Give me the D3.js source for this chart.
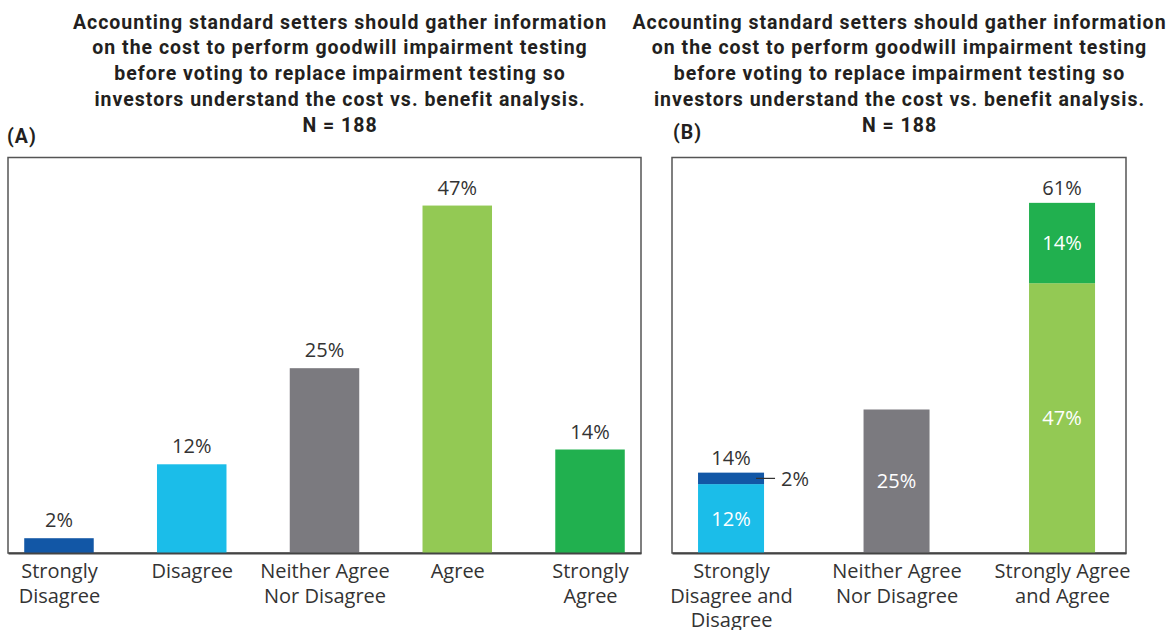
<!DOCTYPE html>
<html>
<head>
<meta charset="utf-8">
<script src="https://cdn.jsdelivr.net/npm/d3@7"></script>
<style>
  html, body { margin: 0; padding: 0; background: #fff; }
  svg { display: block; }
</style>
</head>
<body>
<div id="chart"></div>
<script>
// ---------- data ----------
const titleLines = [
  "Accounting standard setters should gather information",
  "on the cost to perform goodwill impairment testing",
  "before voting to replace impairment testing so",
  "investors understand the cost vs. benefit analysis.",
  "N = 188"
];

// Panel A
const categoriesA = ["Strongly Disagree", "Disagree", "Neither Agree Nor Disagree", "Agree", "Strongly Agree"];
const tickLinesA = [["Strongly", "Disagree"], ["Disagree"], ["Neither Agree", "Nor Disagree"], ["Agree"], ["Strongly", "Agree"]];
const valuesA = [2, 12, 25, 47, 14];
const colorsA = ["#1257a6", "#1bbde9", "#7b7a7f", "#93c954", "#21b04f"];

// Panel B (stacked)
const categoriesB = ["Strongly Disagree and Disagree", "Neither Agree Nor Disagree", "Strongly Agree and Agree"];
const tickLinesB = [["Strongly", "Disagree and", "Disagree"], ["Neither Agree", "Nor Disagree"], ["Strongly Agree", "and Agree"]];
const lowerB = [12, 25, 47];
const upperB = [2, 0, 14];
const totalLabelsB = ["14%", null, "61%"];
const lowerColorsB = ["#1bbde9", "#7b7a7f", "#93c954"];
const upperColorsB = ["#1257a6", null, "#21b04f"];

// ---------- layout ----------
const W = 1167, H = 630;
const FONT = "'Open Sans', sans-serif";
const TITLE_FONT = "Roboto, sans-serif";
const TEXT = "#333";

const svg = d3.select("#chart").append("svg")
  .attr("width", W).attr("height", H)
  .attr("viewBox", `0 0 ${W} ${H}`);

function drawTitle(cx) {
  const t = svg.append("text")
    .attr("text-anchor", "middle")
    .attr("font-family", TITLE_FONT)
    .attr("font-weight", 700)
    .attr("font-size", 19.5)
    .attr("letter-spacing", 1)
    .attr("fill", "#231f20");
  titleLines.forEach((line, i) => {
    t.append("tspan").attr("x", cx).attr("y", 28.5 + i * 25.8).text(line);
  });
}
drawTitle(340);
drawTitle(899.5);

svg.append("text").attr("x", 7).attr("y", 143)
  .attr("font-family", TITLE_FONT).attr("font-weight", 700).attr("font-size", 19.5)
  .attr("letter-spacing", 1).attr("fill", "#231f20").text("(A)");
svg.append("text").attr("x", 673).attr("y", 139)
  .attr("font-family", TITLE_FONT).attr("font-weight", 700).attr("font-size", 19.5)
  .attr("letter-spacing", 1).attr("fill", "#231f20").text("(B)");

const yTop = 157.5, yBot = 553;

function frame(x0, x1) {
  svg.append("rect")
    .attr("x", x0).attr("y", yTop)
    .attr("width", x1 - x0).attr("height", yBot - yTop)
    .attr("fill", "none").attr("stroke", "#555").attr("stroke-width", 1.5);
}

function bottomAxis(x, lines, cats) {
  const g = svg.append("g").attr("transform", `translate(0,${yBot})`)
    .call(d3.axisBottom(x).tickSize(0).tickSizeOuter(0));
  g.select(".domain").attr("stroke", "#444").attr("stroke-width", 2.2);
  g.selectAll(".tick text").each(function(d) {
    const el = d3.select(this);
    const i = cats.indexOf(d);
    el.text(null)
      .attr("font-family", FONT).attr("font-size", 20).attr("fill", TEXT)
      .attr("y", 0).attr("dy", null);
    lines[i].forEach((ln, k) => {
      el.append("tspan").attr("x", 0).attr("y", 25 + k * 24.5).text(ln);
    });
  });
}

// ---------- Panel A ----------
const xA0 = 8, xA1 = 641;
frame(xA0, xA1);
const xA = d3.scalePoint().domain(categoriesA).range([xA0, xA1]).padding(0.384).align(0.5);
const yA = d3.scaleLinear().domain([0, 53.5]).range([yBot, yTop]);
const bwA = 69.5;

svg.append("g").selectAll("rect").data(categoriesA).join("rect")
  .attr("x", d => xA(d) - bwA / 2)
  .attr("width", bwA)
  .attr("y", (d, i) => yA(valuesA[i]))
  .attr("height", (d, i) => yA(0) - yA(valuesA[i]))
  .attr("fill", (d, i) => colorsA[i]);

svg.append("g").selectAll("text").data(categoriesA).join("text")
  .attr("x", d => xA(d))
  .attr("y", (d, i) => yA(valuesA[i]) - 11)
  .attr("text-anchor", "middle")
  .attr("font-family", FONT).attr("font-size", 20).attr("fill", TEXT)
  .text((d, i) => valuesA[i] + "%");

bottomAxis(xA, tickLinesA, categoriesA);

// ---------- Panel B ----------
const xB0 = 672, xB1 = 1126;
frame(xB0, xB1);
const xB = d3.scalePoint().domain(categoriesB).range([xB0, xB1]).padding(0.3716).align(0.48);
const yB = d3.scaleLinear().domain([0, 68.9]).range([yBot, yTop]);
const bwB = 66;

const rowsB = categoriesB.map((c, i) => ({ cat: c, lower: lowerB[i], upper: upperB[i] }));
const stackB = d3.stack().keys(["lower", "upper"])(rowsB);
const segColors = { lower: lowerColorsB, upper: upperColorsB };

stackB.forEach(layer => {
  svg.append("g").selectAll("rect")
    .data(layer.filter(s => s[1] - s[0] > 0))
    .join("rect")
    .attr("x", s => xB(s.data.cat) - bwB / 2)
    .attr("width", bwB)
    .attr("y", s => yB(s[1]))
    .attr("height", s => yB(s[0]) - yB(s[1]))
    .attr("fill", s => segColors[layer.key][categoriesB.indexOf(s.data.cat)]);
});

// inside labels (white), except the small 2% segment
stackB.forEach(layer => {
  layer.forEach(s => {
    const v = s[1] - s[0];
    if (v <= 0) return;
    const cx = xB(s.data.cat);
    const cy = (yB(s[0]) + yB(s[1])) / 2;
    if (v >= 5) {
      svg.append("text")
        .attr("x", cx).attr("y", cy).attr("dy", "0.36em")
        .attr("text-anchor", "middle")
        .attr("font-family", FONT).attr("font-size", 20).attr("fill", "#fff")
        .text(v + "%");
    } else {
      svg.append("line")
        .attr("x1", cx + bwB / 2 - 8).attr("x2", cx + bwB / 2 + 11)
        .attr("y1", cy).attr("y2", cy)
        .attr("stroke", "#333").attr("stroke-width", 1.2);
      svg.append("text")
        .attr("x", cx + bwB / 2 + 17).attr("y", cy).attr("dy", "0.36em")
        .attr("font-family", FONT).attr("font-size", 20).attr("fill", TEXT)
        .text(v + "%");
    }
  });
});

// totals above stacks
svg.append("g").selectAll("text").data(rowsB.filter((r, i) => totalLabelsB[i]))
  .join("text")
  .attr("x", r => xB(r.cat))
  .attr("y", r => yB(r.lower + r.upper) - 8)
  .attr("text-anchor", "middle")
  .attr("font-family", FONT).attr("font-size", 20).attr("fill", TEXT)
  .text(r => totalLabelsB[categoriesB.indexOf(r.cat)]);

bottomAxis(xB, tickLinesB, categoriesB);
</script>
</body>
</html>
